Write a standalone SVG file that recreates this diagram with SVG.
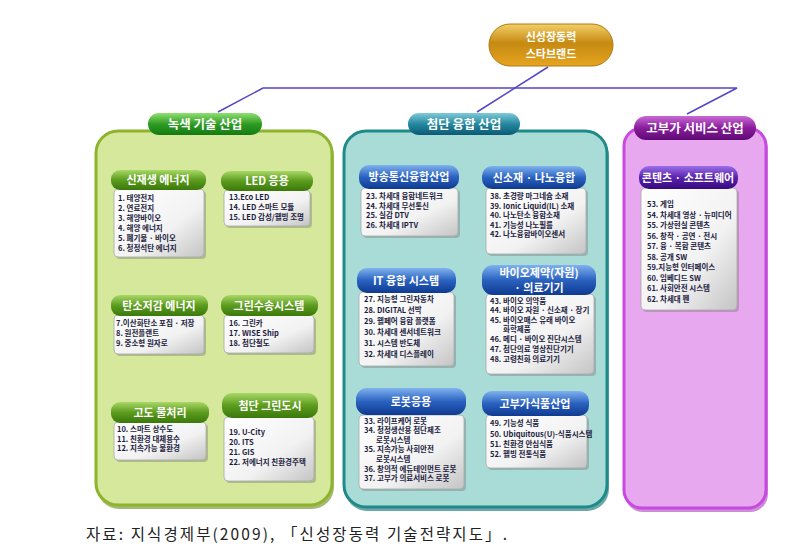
<svg xmlns="http://www.w3.org/2000/svg" width="810" height="555" viewBox="0 0 810 555">
<defs>
<linearGradient id="gGold" x1="0" y1="0" x2="0" y2="1"><stop offset="0" stop-color="#f3cf68"/><stop offset="0.45" stop-color="#c68a12"/><stop offset="1" stop-color="#e6a420"/></linearGradient>
<linearGradient id="gCatG" x1="0" y1="0" x2="0" y2="1"><stop offset="0" stop-color="#8fe070"/><stop offset="0.5" stop-color="#2f9c24"/><stop offset="1" stop-color="#137a12"/></linearGradient>
<linearGradient id="gCatT" x1="0" y1="0" x2="0" y2="1"><stop offset="0" stop-color="#7fcad8"/><stop offset="0.5" stop-color="#2588a0"/><stop offset="1" stop-color="#0c5a74"/></linearGradient>
<linearGradient id="gCatP" x1="0" y1="0" x2="0" y2="1"><stop offset="0" stop-color="#c86ad4"/><stop offset="0.5" stop-color="#8a1c9c"/><stop offset="1" stop-color="#5e0a74"/></linearGradient>
<linearGradient id="gHG" x1="0" y1="0" x2="0" y2="1"><stop offset="0" stop-color="#a8d866"/><stop offset="0.5" stop-color="#5c9c1e"/><stop offset="1" stop-color="#3b780b"/></linearGradient>
<linearGradient id="gHB" x1="0" y1="0" x2="0" y2="1"><stop offset="0" stop-color="#7fb2ee"/><stop offset="0.5" stop-color="#2a62c0"/><stop offset="1" stop-color="#0f3a90"/></linearGradient>
<linearGradient id="gHP" x1="0" y1="0" x2="0" y2="1"><stop offset="0" stop-color="#9a70e6"/><stop offset="0.5" stop-color="#5a22b0"/><stop offset="1" stop-color="#360a7c"/></linearGradient>
<linearGradient id="gBody" x1="0" y1="0" x2="1" y2="1"><stop offset="0" stop-color="#ffffff"/><stop offset="0.6" stop-color="#f2f2f2"/><stop offset="1" stop-color="#c4c4c4"/></linearGradient>
</defs>
<style>
.panel{stroke-width:3}
.body{fill:url(#gBody);stroke:#a8a8a8;stroke-width:0.8}
.shadow{fill:#6a6a6a;opacity:0.35}
.hdr{font-family:"Noto Sans CJK KR","Noto Sans",sans-serif;font-weight:bold;font-size:11px;fill:#ffffff;text-anchor:middle}
.cat{font-family:"Noto Sans CJK KR","Noto Sans",sans-serif;font-weight:bold;font-size:12.5px;fill:#ffffff;text-anchor:middle}
.item{font-family:"Noto Sans CJK KR","Noto Sans",sans-serif;font-weight:bold;font-size:7.5px;fill:#1c1c40}
.conn{stroke:#5446c8;stroke-width:1.5;fill:none}
.cap{font-family:"Noto Sans CJK KR","Liberation Sans",sans-serif;font-size:15.5px;fill:#222222}
</style>
<rect width="810" height="555" fill="#ffffff"/>

<g id="connectors">
<polyline class="conn" points="218,112 263,88 737,88 687,114"/>
<line class="conn" x1="548" y1="67" x2="477" y2="112"/>
</g>

<g id="title">
<rect x="489" y="24" width="124" height="42" rx="21" fill="url(#gGold)" stroke="#b07a10" stroke-width="1"/>
<text class="hdr" x="551" y="41" font-size="12">신성장동력</text>
<text class="hdr" x="551" y="58" font-size="12">스타브랜드</text>
</g>

<g id="panel-green">
<rect x="97" y="134" width="237" height="375" rx="22" fill="#6e8a1c" opacity="0.6"/>
<rect class="panel" x="96" y="131" width="236" height="374" rx="22" fill="#d5e89c" stroke="#8cb42c"/>
<rect x="148" y="113" width="114" height="22" rx="11" fill="url(#gCatG)"/>
<text class="cat" x="205" y="129">녹색 기술 산업</text>
</g>
<g id="panel-teal">
<rect x="345" y="134" width="264" height="377" rx="22" fill="#0e6a6a" opacity="0.6"/>
<rect class="panel" x="344" y="131" width="263" height="376" rx="22" fill="#a9dcd7" stroke="#1e8a8a"/>
<rect x="408" y="113" width="112" height="22" rx="11" fill="url(#gCatT)"/>
<text class="cat" x="464" y="129">첨단 융합 산업</text>
</g>
<g id="panel-purple">
<rect x="625" y="131" width="143" height="381" rx="18" fill="#9a1cb0" opacity="0.5"/>
<rect class="panel" x="624" y="128" width="142" height="380" rx="18" fill="#e8a8f0" stroke="#c848e0"/>
<rect x="634" y="116" width="122" height="24" rx="12" fill="url(#gCatP)"/>
<text class="cat" x="695" y="133">고부가 서비스 산업</text>
</g>

<g id="box-renewable">
<rect class="shadow" x="116" y="191" width="90" height="68" rx="4"/>
<rect class="body" x="114" y="189" width="90" height="68" rx="4"/>
<rect x="111" y="170" width="95" height="20" rx="9" fill="url(#gHG)"/>
<text class="hdr" x="158" y="184">신재생 에너지</text>
<text class="item" x="118" y="201">1. 태양전지</text>
<text class="item" x="118" y="211">2. 연료전지</text>
<text class="item" x="118" y="221">3. 해양바이오</text>
<text class="item" x="118" y="231">4. 해양 에너지</text>
<text class="item" x="118" y="241">5. 폐기물 · 바이오</text>
<text class="item" x="118" y="251">6. 청정석탄 에너지</text>
</g>
<g id="box-led">
<rect class="shadow" x="226" y="192" width="86" height="36" rx="4"/>
<rect class="body" x="224" y="190" width="86" height="36" rx="4"/>
<rect x="221" y="171" width="92" height="20" rx="9" fill="url(#gHG)"/>
<text class="hdr" x="267" y="185">LED 응용</text>
<text class="item" x="229" y="200">13.Eco LED</text>
<text class="item" x="229" y="210">14. LED 스마트 모듈</text>
<text class="item" x="229" y="220">15. LED 감성/웰빙 조명</text>
</g>
<g id="box-carbon">
<rect class="shadow" x="116" y="317" width="90" height="39" rx="4"/>
<rect class="body" x="114" y="315" width="90" height="39" rx="4"/>
<rect x="111" y="295" width="97" height="21" rx="9" fill="url(#gHG)"/>
<text class="hdr" x="159" y="310">탄소저감 에너지</text>
<text class="item" x="116" y="326">7.이산화탄소 포집 · 저장</text>
<text class="item" x="116" y="336">8. 원전플랜트</text>
<text class="item" x="116" y="346">9. 중소형 원자로</text>
</g>
<g id="box-transport">
<rect class="shadow" x="226" y="317" width="90" height="38" rx="4"/>
<rect class="body" x="224" y="315" width="90" height="38" rx="4"/>
<rect x="221" y="295" width="97" height="21" rx="9" fill="url(#gHG)"/>
<text class="hdr" x="269" y="310">그린수송시스템</text>
<text class="item" x="229" y="326">16. 그린카</text>
<text class="item" x="229" y="336">17. WISE Ship</text>
<text class="item" x="229" y="346">18. 첨단철도</text>
</g>
<g id="box-water">
<rect class="shadow" x="116" y="424" width="92" height="38" rx="4"/>
<rect class="body" x="114" y="422" width="92" height="38" rx="4"/>
<rect x="111" y="402" width="98" height="21" rx="9" fill="url(#gHG)"/>
<text class="hdr" x="160" y="417">고도 물처리</text>
<text class="item" x="117" y="432">10. 스마트 상수도</text>
<text class="item" x="117" y="441.5">11. 친환경 대체용수</text>
<text class="item" x="117" y="451">12. 지속가능 물환경</text>
</g>
<g id="box-city">
<rect class="shadow" x="226" y="419" width="90" height="64" rx="4"/>
<rect class="body" x="224" y="417" width="90" height="64" rx="4"/>
<rect x="222" y="393" width="96" height="25" rx="10" fill="url(#gHG)"/>
<text class="hdr" x="270" y="410">첨단 그린도시</text>
<text class="item" x="229" y="435">19. U-City</text>
<text class="item" x="229" y="445">20. ITS</text>
<text class="item" x="229" y="455">21. GIS</text>
<text class="item" x="229" y="465">22. 저에너지 친환경주택</text>
</g>

<g id="box-broadcast">
<rect class="shadow" x="363" y="190" width="97" height="48" rx="4"/>
<rect class="body" x="361" y="188" width="97" height="48" rx="4"/>
<rect x="359" y="165" width="100" height="24" rx="10" fill="url(#gHB)"/>
<text class="hdr" x="409" y="181">방송통신융합산업</text>
<text class="item" x="366" y="199">23. 차세대 융합네트워크</text>
<text class="item" x="366" y="208.5">24. 차세대 무선통신</text>
<text class="item" x="366" y="218">25. 실감 DTV</text>
<text class="item" x="366" y="227.5">26. 차세대 IPTV</text>
</g>
<g id="box-nano">
<rect class="shadow" x="488" y="190" width="100" height="66" rx="4"/>
<rect class="body" x="486" y="188" width="100" height="66" rx="4"/>
<rect x="482" y="166" width="104" height="23" rx="10" fill="url(#gHB)"/>
<text class="hdr" x="534" y="182">신소재 · 나노융합</text>
<text class="item" x="490" y="199">38. 초경량 마그네슘 소재</text>
<text class="item" x="490" y="208.5">39. Ionic Liquid(IL) 소재</text>
<text class="item" x="490" y="218">40. 나노탄소 융합소재</text>
<text class="item" x="490" y="227.5">41. 기능성 나노필름</text>
<text class="item" x="490" y="237">42. 나노융합바이오센서</text>
</g>
<g id="box-itfusion">
<rect class="shadow" x="361" y="294" width="95" height="74" rx="4"/>
<rect class="body" x="359" y="292" width="95" height="74" rx="4"/>
<rect x="357" y="268" width="99" height="25" rx="10" fill="url(#gHB)"/>
<text class="hdr" x="406" y="285">IT 융합 시스템</text>
<text class="item" x="364" y="302">27. 지능형 그린자동차</text>
<text class="item" x="364" y="313">28. DIGITAL 선박</text>
<text class="item" x="364" y="324">29. 웰페어 융합 플랫폼</text>
<text class="item" x="364" y="335">30. 차세대 센서네트워크</text>
<text class="item" x="364" y="346">31. 시스템 반도체</text>
<text class="item" x="364" y="357">32. 차세대 디스플레이</text>
</g>
<g id="box-bio">
<rect class="shadow" x="488" y="296" width="108" height="80" rx="4"/>
<rect class="body" x="486" y="294" width="108" height="80" rx="4"/>
<rect x="482" y="265" width="114" height="30" rx="11" fill="url(#gHB)"/>
<text class="hdr" x="539" y="277" font-size="10">바이오제약(자원)</text>
<text class="hdr" x="539" y="292" font-size="10">· 의료기기</text>
<text class="item" x="490" y="303.5">43. 바이오 의약품</text>
<text class="item" x="490" y="313">44. 바이오 자원 · 신소재 · 장기</text>
<text class="item" x="490" y="322.5">45. 바이오매스 유래 바이오</text>
<text class="item" x="503" y="332">화학제품</text>
<text class="item" x="490" y="342">46. 메디 · 바이오 진단시스템</text>
<text class="item" x="490" y="352">47. 첨단의료 영상진단기기</text>
<text class="item" x="490" y="362">48. 고령친화 의료기기</text>
</g>
<g id="box-robot">
<rect class="shadow" x="361" y="417" width="105" height="74" rx="4"/>
<rect class="body" x="359" y="415" width="105" height="74" rx="4"/>
<rect x="356" y="388" width="110" height="27" rx="11" fill="url(#gHB)"/>
<text class="hdr" x="411" y="406">로봇응용</text>
<text class="item" x="364" y="423.5">33. 라이프케어 로봇</text>
<text class="item" x="364" y="433.1">34. 청정생산용 첨단제조</text>
<text class="item" x="376" y="442.7">로봇시스템</text>
<text class="item" x="364" y="452.3">35. 지속가능 사회안전</text>
<text class="item" x="376" y="461.9">로봇시스템</text>
<text class="item" x="364" y="471.5">36. 창의적 에듀테인먼트 로봇</text>
<text class="item" x="364" y="481.1">37. 고부가 의료서비스 로봇</text>
</g>
<g id="box-food">
<rect class="shadow" x="488" y="417" width="101" height="53" rx="4"/>
<rect class="body" x="486" y="415" width="101" height="53" rx="4"/>
<rect x="482" y="391" width="107" height="25" rx="10" fill="url(#gHB)"/>
<text class="hdr" x="535" y="408">고부가식품산업</text>
<text class="item" x="490" y="426">49. 기능성 식품</text>
<text class="item" x="490" y="436.5">50. Ubiquitous(U)-식품시스템</text>
<text class="item" x="490" y="447">51. 친환경 안심식품</text>
<text class="item" x="490" y="457">52. 웰빙 전통식품</text>
</g>

<g id="box-content">
<rect class="shadow" x="643" y="190" width="96" height="122" rx="4"/>
<rect class="body" x="641" y="188" width="96" height="122" rx="4"/>
<rect x="639" y="166" width="99" height="23" rx="10" fill="url(#gHP)"/>
<text class="hdr" x="688" y="182">콘텐츠 · 소프트웨어</text>
<text class="item" x="647" y="207">53. 게임</text>
<text class="item" x="647" y="217.5">54. 차세대 영상 · 뉴미디어</text>
<text class="item" x="647" y="228">55. 가상현실 콘텐츠</text>
<text class="item" x="647" y="238.5">56. 창작 · 공연 · 전시</text>
<text class="item" x="647" y="249">57. 융 · 복합 콘텐츠</text>
<text class="item" x="647" y="259.5">58. 공개 SW</text>
<text class="item" x="647" y="270">59.지능형 인터페이스</text>
<text class="item" x="647" y="280.5">60. 임베디드 SW</text>
<text class="item" x="647" y="291">61. 사회안전 시스템</text>
<text class="item" x="647" y="301.5">62. 차세대 펜</text>
</g>

<text class="cap" x="86" y="540" textLength="421" lengthAdjust="spacing">자료: 지식경제부(2009), 「신성장동력 기술전략지도」.</text>
</svg>
